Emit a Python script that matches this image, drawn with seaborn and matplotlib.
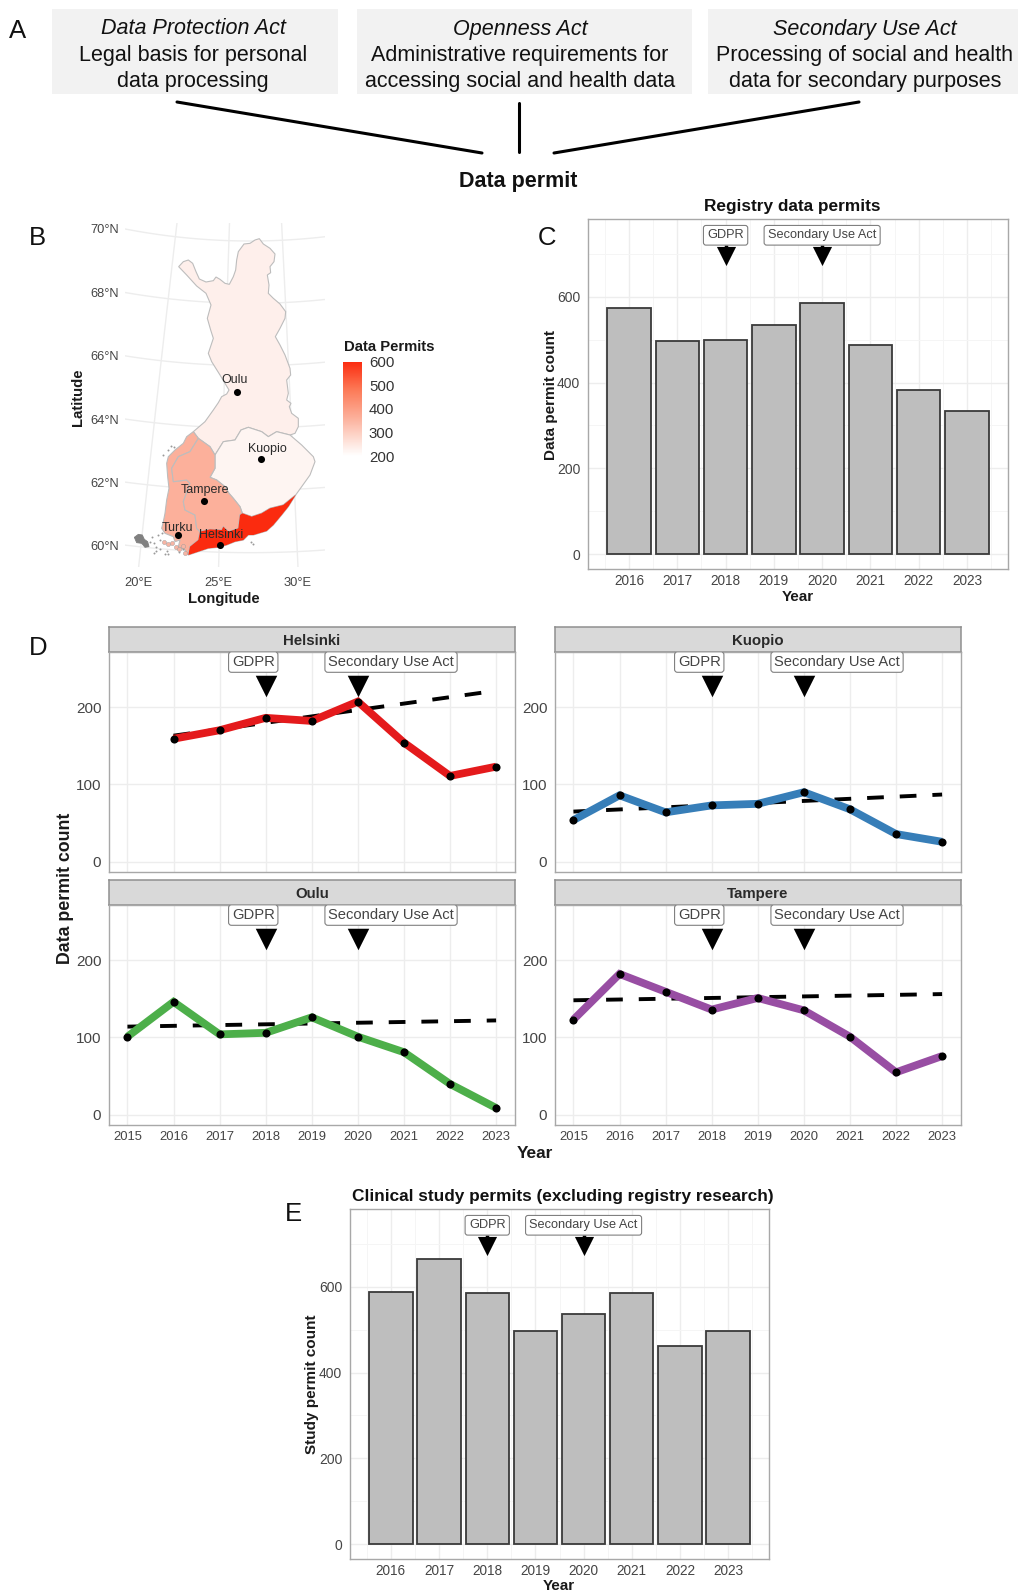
import numpy as np
import pandas as pd
import matplotlib
matplotlib.use("Agg")
import matplotlib.pyplot as plt
import seaborn as sns
from matplotlib.cm import ScalarMappable
from matplotlib.colors import LinearSegmentedColormap, Normalize
from matplotlib.patches import Rectangle

W, H = 1018, 1592

# bar panels
bar_years = [2016, 2017, 2018, 2019, 2020, 2021, 2022, 2023]
registry_permits = [574, 497, 500, 534, 586, 488, 383, 333]
study_permits = [588, 666, 587, 497, 538, 587, 462, 498]

# city panels
line_years = [2015, 2016, 2017, 2018, 2019, 2020, 2021, 2022, 2023]
helsinki = [np.nan, 159, 170, 186, 182, 207, 154, 111, 123]
kuopio = [54, 86, 64, 73, 75, 90, 68, 36, 26]
oulu = [101, 146, 104, 106, 126, 101, 81, 40, 9]
tampere = [123, 182, 159, 136, 151, 135, 101, 55, 76]
trend_years = [2015, 2023]
helsinki_trend_years = [2016, 2023]
helsinki_trend = [163, 221]
kuopio_trend = [65, 87]
oulu_trend = [114, 122]
tampere_trend = [148, 156]

# map, digitised outlines (map units, y pointing south)
oulu_region = [(71, -400), (85, -415), (100, -420), (113, -410), (123, -385), (133, -363), (153, -354), (175, -358),
               (183, -369), (195, -362), (210, -350), (223, -347), (235, -370), (242, -390), (245, -420), (250, -445),
               (267, -468), (285, -470), (300, -480), (313, -484), (325, -468), (345, -455), (360, -438), (357, -415),
               (345, -400), (347, -382), (337, -375), (342, -345), (340, -320), (355, -305), (375, -288), (392, -265),
               (390, -245), (375, -215), (361, -190), (375, -165), (390, -135), (405, -95), (407, -75), (395, -60),
               (400, -20), (395, 0), (408, 10), (403, 20), (410, 40), (430, 55), (430, 80), (420, 100), (405, 105),
               (365, 95), (340, 110), (320, 95), (280, 82), (258, 90), (240, 120), (205, 125), (180, 165), (165, 140),
               (130, 115), (115, 95), (150, 65), (175, 30), (190, 8), (200, -10), (215, -18), (222, -30), (195, -75),
               (170, -115), (160, -140), (175, -185), (167, -210), (157, -245), (168, -285), (153, -320), (125, -342),
               (95, -375)]
kuopio_region = [(180, 165), (205, 125), (240, 120), (258, 90), (280, 82), (320, 95), (340, 110), (365, 95), (405, 105),
                 (440, 135), (475, 170), (480, 185), (465, 225), (440, 260), (422, 285), (385, 315), (345, 325),
                 (320, 340), (290, 350), (262, 340), (255, 320), (235, 295), (222, 280), (210, 260), (185, 240),
                 (165, 232), (180, 205)]
turku_region = [(115, 95), (95, 110), (85, 130), (60, 150), (40, 170), (35, 190), (38, 230), (42, 265), (35, 300),
                (30, 340), (25, 365), (20, 385), (30, 400), (55, 410), (60, 425), (75, 420), (70, 440), (90, 450),
                (100, 465), (105, 440), (130, 420), (135, 395), (125, 385), (120, 345), (90, 330), (85, 305),
                (105, 250), (95, 240), (55, 245), (50, 205), (70, 170), (105, 155), (130, 115)]
tampere_region = [(130, 115), (165, 140), (180, 165), (180, 205), (165, 232), (185, 240), (210, 260), (222, 280),
                  (235, 295), (255, 320), (262, 340), (255, 345), (250, 385), (220, 395), (205, 380), (200, 390),
                  (165, 388), (135, 395), (125, 385), (120, 345), (90, 330), (85, 305), (105, 250), (95, 240),
                  (55, 245), (50, 205), (70, 170), (105, 155)]
helsinki_region = [(100, 465), (105, 440), (130, 420), (135, 395), (165, 388), (200, 390), (205, 380), (220, 395),
                   (250, 385), (255, 345), (262, 340), (290, 350), (320, 340), (345, 325), (385, 315), (422, 285),
                   (400, 320), (380, 345), (355, 375), (335, 393), (295, 405), (280, 405), (265, 420), (240, 425),
                   (215, 435), (190, 442), (160, 445), (130, 455)]
region_shapes = [oulu_region, kuopio_region, turku_region, tampere_region, helsinki_region]
region_permits = [234, 222, 360, 360, 600]

aland = [(-62, 412), (-50, 403), (-38, 405), (-32, 418), (-22, 425), (-18, 440), (-30, 442), (-40, 430), (-55, 428)]
island_x = [-14, -8, -2, 4, 10, 16, 22, 28, 2, 14, 36, -2, 30, 40, 25, 38, 48, 58, 72, 84, 90, 295, 288]
island_y = [425, 412, 430, 442, 405, 420, 398, 425, 452, 446, 452, 458, 462, 462, 165, 150, 138, 142, 455, 446, 458, 432, 425]
salmon_island_x = [28, 38, 50, 62, 72, 84, 90]
salmon_island_y = [425, 432, 428, 440, 448, 438, 458]

city_names = ["Oulu", "Kuopio", "Tampere", "Turku", "Helsinki"]
city_x = [245, 318, 148, 69, 194]
city_y = [-23, 178, 303, 404, 436]
city_label_x = [239, 336, 149, 67, 197]
city_label_y = [-60, 146, 270, 385, 405]

lat_ticks = [60, 62, 64, 66, 68, 70]
lon_ticks = [20, 25, 30]

# panel A
act_titles = ["Data Protection Act", "Openness Act", "Secondary Use Act"]
act_lines = [["Legal basis for personal", "data processing"],
             ["Administrative requirements for", "accessing social and health data"],
             ["Processing of social and health", "data for secondary purposes"]]

INK = "#454545"
GRID = "#EDEDED"
GRID_MINOR = "#F5F5F5"
BORDER = "#A8A8A8"
BAR_GREY = "#BEBEBE"
LINE_COLOURS = {"Helsinki": "#E41A1C", "Kuopio": "#377EB8", "Oulu": "#4DAF4A", "Tampere": "#984EA3"}

sns.set_theme(style="whitegrid")
plt.rcParams["font.family"] = ["Liberation Sans", "DejaVu Sans"]

fig = plt.figure(figsize=(W / 100, H / 100), dpi=100)


def px_axes(x0, y0, x1, y1, **kw):
    return fig.add_axes([x0 / W, 1 - y1 / H, (x1 - x0) / W, (y1 - y0) / H], **kw)


def style_frame(ax):
    for s in ax.spines.values():
        s.set_visible(True)
        s.set_color(BORDER)
        s.set_linewidth(1.0)
    ax.set_axisbelow(True)
    ax.tick_params(which="major", length=3, width=0.8, color="#333333", labelcolor=INK, pad=2.5)
    ax.tick_params(which="minor", length=0)


def event_marks(ax, y_mark, y_label, x_labels, size, fontsize, pad):
    sns.scatterplot(x=[2018, 2020], y=[y_mark, y_mark], marker="v", s=size, color="black", linewidth=0, ax=ax, zorder=5, legend=False)
    for x, text in zip(x_labels, ["GDPR", "Secondary Use Act"]):
        ax.text(x, y_label, text, ha="center", va="center", fontsize=fontsize, color="#444444", zorder=6, clip_on=True,
                bbox=dict(boxstyle=f"round,pad={pad},rounding_size=0.2", fc="white", ec="#808080", lw=0.8))


# overlay in pixels for panel A and the letters
over = fig.add_axes([0, 0, 1, 1], zorder=-1)
over.set_xlim(0, W)
over.set_ylim(H, 0)
over.axis("off")
for (x0, x1), cx, title, lines in zip([(52, 338), (357, 692), (708, 1018)], [193, 520, 865], act_titles, act_lines):
    over.add_patch(Rectangle((x0, 9), x1 - x0, 85, fc="#F2F2F2", ec="none"))
    over.text(cx, 29, title, ha="center", va="center", fontsize=15.5, style="italic", color="#111111")
    over.text(cx, 55, lines[0], ha="center", va="center", fontsize=15.5, color="#111111")
    over.text(cx, 81, lines[1], ha="center", va="center", fontsize=15.5, color="#111111")
over.plot([177, 482], [102, 153], color="black", lw=2.2)
over.plot([519, 519], [103, 152], color="black", lw=2.2)
over.plot([859, 554], [102, 153], color="black", lw=2.2)
over.text(518, 181, "Data permit", ha="center", va="center", fontsize=15.5, fontweight="bold", color="#111111")
for letter, x, y in [("A", 18, 31), ("B", 37, 238), ("C", 547, 238), ("D", 38, 648), ("E", 293, 1214)]:
    over.text(x, y, letter, ha="center", va="center", fontsize=18.5, color="#111111")

# panel B, map
ax_map = px_axes(125, 223, 325, 567)
ax_map.set_xlim(-90, 510)
ax_map.set_ylim(501, -531)
ax_map.set_facecolor("none")
ax_map.grid(False)
for s in ax_map.spines.values():
    s.set_visible(False)


def project(lon, lat):
    r = 5380.0
    dl = np.radians(np.asarray(lon, dtype=float) - 27)
    phi = np.radians(np.asarray(lat, dtype=float))
    x = 286 + r * dl * np.cos(phi)
    y = 458 - 93.5 * (np.asarray(lat, dtype=float) - 60) - r * dl ** 2 * np.sin(phi) * np.cos(phi) / 2
    return x, y


ytick_pos = []
for lat in lat_ticks:
    lons = np.linspace(14, 38, 100)
    gx, gy = project(lons, np.full(100, lat))
    ax_map.plot(gx, gy, color=GRID, lw=1.0, zorder=1)
    ytick_pos.append(np.interp(-90, gx, gy))
xtick_pos = []
for lon in lon_ticks:
    lats = np.linspace(58, 72, 100)
    gx, gy = project(np.full(100, lon), lats)
    ax_map.plot(gx, gy, color=GRID, lw=1.0, zorder=1)
    xtick_pos.append(np.interp(501, gy[::-1], gx[::-1]))

permit_cmap = LinearSegmentedColormap.from_list(
    "permits", [(0, "#FFFFFF"), (0.09, "#FEEEE9"), (0.4, "#FCB09B"), (0.7, "#FC7A57"), (1, "#FB2B0F")])
permit_norm = Normalize(200, 600)
for shape, value in zip(region_shapes, region_permits):
    sx, sy = zip(*shape)
    ax_map.fill(sx, sy, facecolor=permit_cmap(permit_norm(value)), edgecolor="#BDBDBD", lw=0.8, zorder=2)
ax_map.fill(*zip(*helsinki_region), facecolor=permit_cmap(1.0), edgecolor="none", zorder=3)
ax_map.fill(*zip(*aland), facecolor="#808080", edgecolor="#808080", lw=0.6, zorder=2)
ax_map.scatter(island_x, island_y, s=2, color="#9A9A9A", linewidths=0, zorder=2)
ax_map.scatter(salmon_island_x, salmon_island_y, s=9, color="#F7B5A4", edgecolors="#999999", linewidths=0.3, zorder=2)
sns.scatterplot(x=city_x, y=city_y, color="black", s=26, linewidth=0, ax=ax_map, zorder=4, legend=False)
for name, x, y in zip(city_names, city_label_x, city_label_y):
    ax_map.text(x, y, name, ha="center", va="center", fontsize=9, color="#2A2A2A", zorder=5)
ax_map.set_xlim(-90, 510)
ax_map.set_ylim(501, -531)
ax_map.set_xticks(xtick_pos, [f"{v}°E" for v in lon_ticks])
ax_map.set_yticks(ytick_pos, [f"{v}°N" for v in lat_ticks])
ax_map.tick_params(length=0, labelsize=9.3, labelcolor=INK)
ax_map.tick_params(axis="x", pad=7)
ax_map.tick_params(axis="y", pad=4.3)
ax_map.set_xlabel("Longitude", fontsize=10.7, fontweight="bold", color="#1A1A1A", va="center")
ax_map.xaxis.set_label_coords((224 - 125) / 200, 1 - (599 - 223) / 344, transform=ax_map.transAxes)
ax_map.set_ylabel("Latitude", fontsize=10.7, fontweight="bold", color="#1A1A1A", va="center")
ax_map.yaxis.set_label_coords((78 - 125) / 200, 1 - (397 - 223) / 344, transform=ax_map.transAxes)

cax = px_axes(343, 361.5, 362, 456)
cb = fig.colorbar(ScalarMappable(norm=permit_norm, cmap=permit_cmap), cax=cax)
cb.outline.set_visible(False)
cb.set_ticks([200, 300, 400, 500, 600])
cb.ax.tick_params(length=0, labelsize=10.8, labelcolor="#333333", pad=5)
over.text(389, 347, "Data Permits", ha="center", va="center", fontsize=10.7, fontweight="bold", color="#1A1A1A")


# panels C and E
def bar_panel(rect, values, title, ylabel, title_x, title_y, ylabel_x, ylabel_y, year_x, year_y):
    x0, y0, x1, y1 = rect
    ax = px_axes(*rect)
    df = pd.DataFrame({"Year": bar_years, "Count": values})
    sns.barplot(data=df, x="Year", y="Count", native_scale=True, color=BAR_GREY, saturation=1, width=0.9,
                edgecolor="#3A3A3A", linewidth=1.3, ax=ax)
    ax.set_xlim(2015.15, 2023.85)
    ax.set_ylim(-35, 782)
    ax.set_xticks(bar_years, [str(y) for y in bar_years])
    ax.set_yticks([0, 200, 400, 600])
    ax.set_xticks([y - 0.5 for y in bar_years] + [2023.5], minor=True)
    ax.set_yticks([100, 300, 500, 700], minor=True)
    ax.grid(True, which="major", color=GRID, lw=1.0)
    ax.grid(True, which="minor", color=GRID_MINOR, lw=0.7)
    style_frame(ax)
    ax.tick_params(axis="x", labelsize=9.8, pad=0.5)
    ax.tick_params(axis="y", labelsize=10)
    event_marks(ax, 696, 744, [2018, 2020], 190, 9.2, 0.3)
    ax.vlines([2018, 2020], 712, 722, color="black", lw=2.5, zorder=5)
    ax.set_title(title, fontsize=12.4, fontweight="bold", color="#111111", x=(title_x - x0) / (x1 - x0),
                 y=1 - (title_y - y0) / (y1 - y0), va="center", pad=0)
    ax.set_ylabel(ylabel, fontsize=11, fontweight="bold", color="#1A1A1A", va="center")
    ax.yaxis.set_label_coords((ylabel_x - x0) / (x1 - x0), 1 - (ylabel_y - y0) / (y1 - y0))
    ax.set_xlabel("Year", fontsize=11, fontweight="bold", color="#1A1A1A", va="center")
    ax.xaxis.set_label_coords((year_x - x0) / (x1 - x0), 1 - (year_y - y0) / (y1 - y0))
    return ax


bar_panel((588, 219, 1008, 569), registry_permits, "Registry data permits", "Data permit count", 792, 207, 551, 395, 798, 597)
bar_panel((350, 1209, 769, 1559), study_permits, "Clinical study permits (excluding registry research)", "Study permit count", 563, 1196, 312, 1384, 559, 1586)


# panel D
def city_panel(rect, name, values, t_years, trend, show_x):
    x0, y0, x1, y1 = rect
    strip = px_axes(x0, y0 - 25, x1, y0)
    strip.set_facecolor("#D9D9D9")
    strip.set_xticks([])
    strip.set_yticks([])
    strip.grid(False)
    for s in strip.spines.values():
        s.set_color("#8F8F8F")
        s.set_linewidth(1.1)
    strip.text(0.5, 0.44, name, transform=strip.transAxes, ha="center", va="center", fontsize=10.8, fontweight="bold", color="#2A2A2A")

    ax = px_axes(*rect)
    df = pd.DataFrame({"Year": line_years, "Count": values}).dropna()
    sns.lineplot(x=t_years, y=trend, color="black", lw=2.8, linestyle=(0, (4.3, 4.1)), dash_capstyle="butt", ax=ax, zorder=2, errorbar=None)
    sns.lineplot(data=df, x="Year", y="Count", color=LINE_COLOURS[name], lw=5.6, solid_joinstyle="miter", solid_capstyle="butt", ax=ax, zorder=3, errorbar=None)
    sns.scatterplot(data=df, x="Year", y="Count", color="black", s=34, linewidth=0, ax=ax, zorder=4, legend=False)
    ax.set_xlim(2014.6, 2023.41)
    ax.set_ylim(-13, 271)
    ax.set_yticks([0, 100, 200])
    ax.set_xticks(line_years, [str(y) for y in line_years] if show_x else [])
    ax.grid(True, color=GRID, lw=1.0)
    style_frame(ax)
    ax.tick_params(axis="y", labelsize=11)
    ax.tick_params(axis="x", labelsize=9.4, length=3 if show_x else 0, pad=1.5)
    ax.set_xlabel("")
    ax.set_ylabel("")
    event_marks(ax, 227, 258, [2017.73, 2020.72], 240, 10.6, 0.22)
    return ax


city_panel((109, 652, 515, 872), "Helsinki", helsinki, helsinki_trend_years, helsinki_trend, False)
city_panel((555, 652, 961, 872), "Kuopio", kuopio, trend_years, kuopio_trend, False)
city_panel((109, 905, 515, 1125), "Oulu", oulu, trend_years, oulu_trend, True)
city_panel((555, 905, 961, 1125), "Tampere", tampere, trend_years, tampere_trend, True)
over.text(66, 888, "Data permit count", rotation=90, ha="center", va="center", fontsize=12.8, fontweight="bold", color="#1A1A1A")
over.text(535, 1154, "Year", ha="center", va="center", fontsize=12.4, fontweight="bold", color="#1A1A1A")

fig.savefig("out.png", dpi=100)
